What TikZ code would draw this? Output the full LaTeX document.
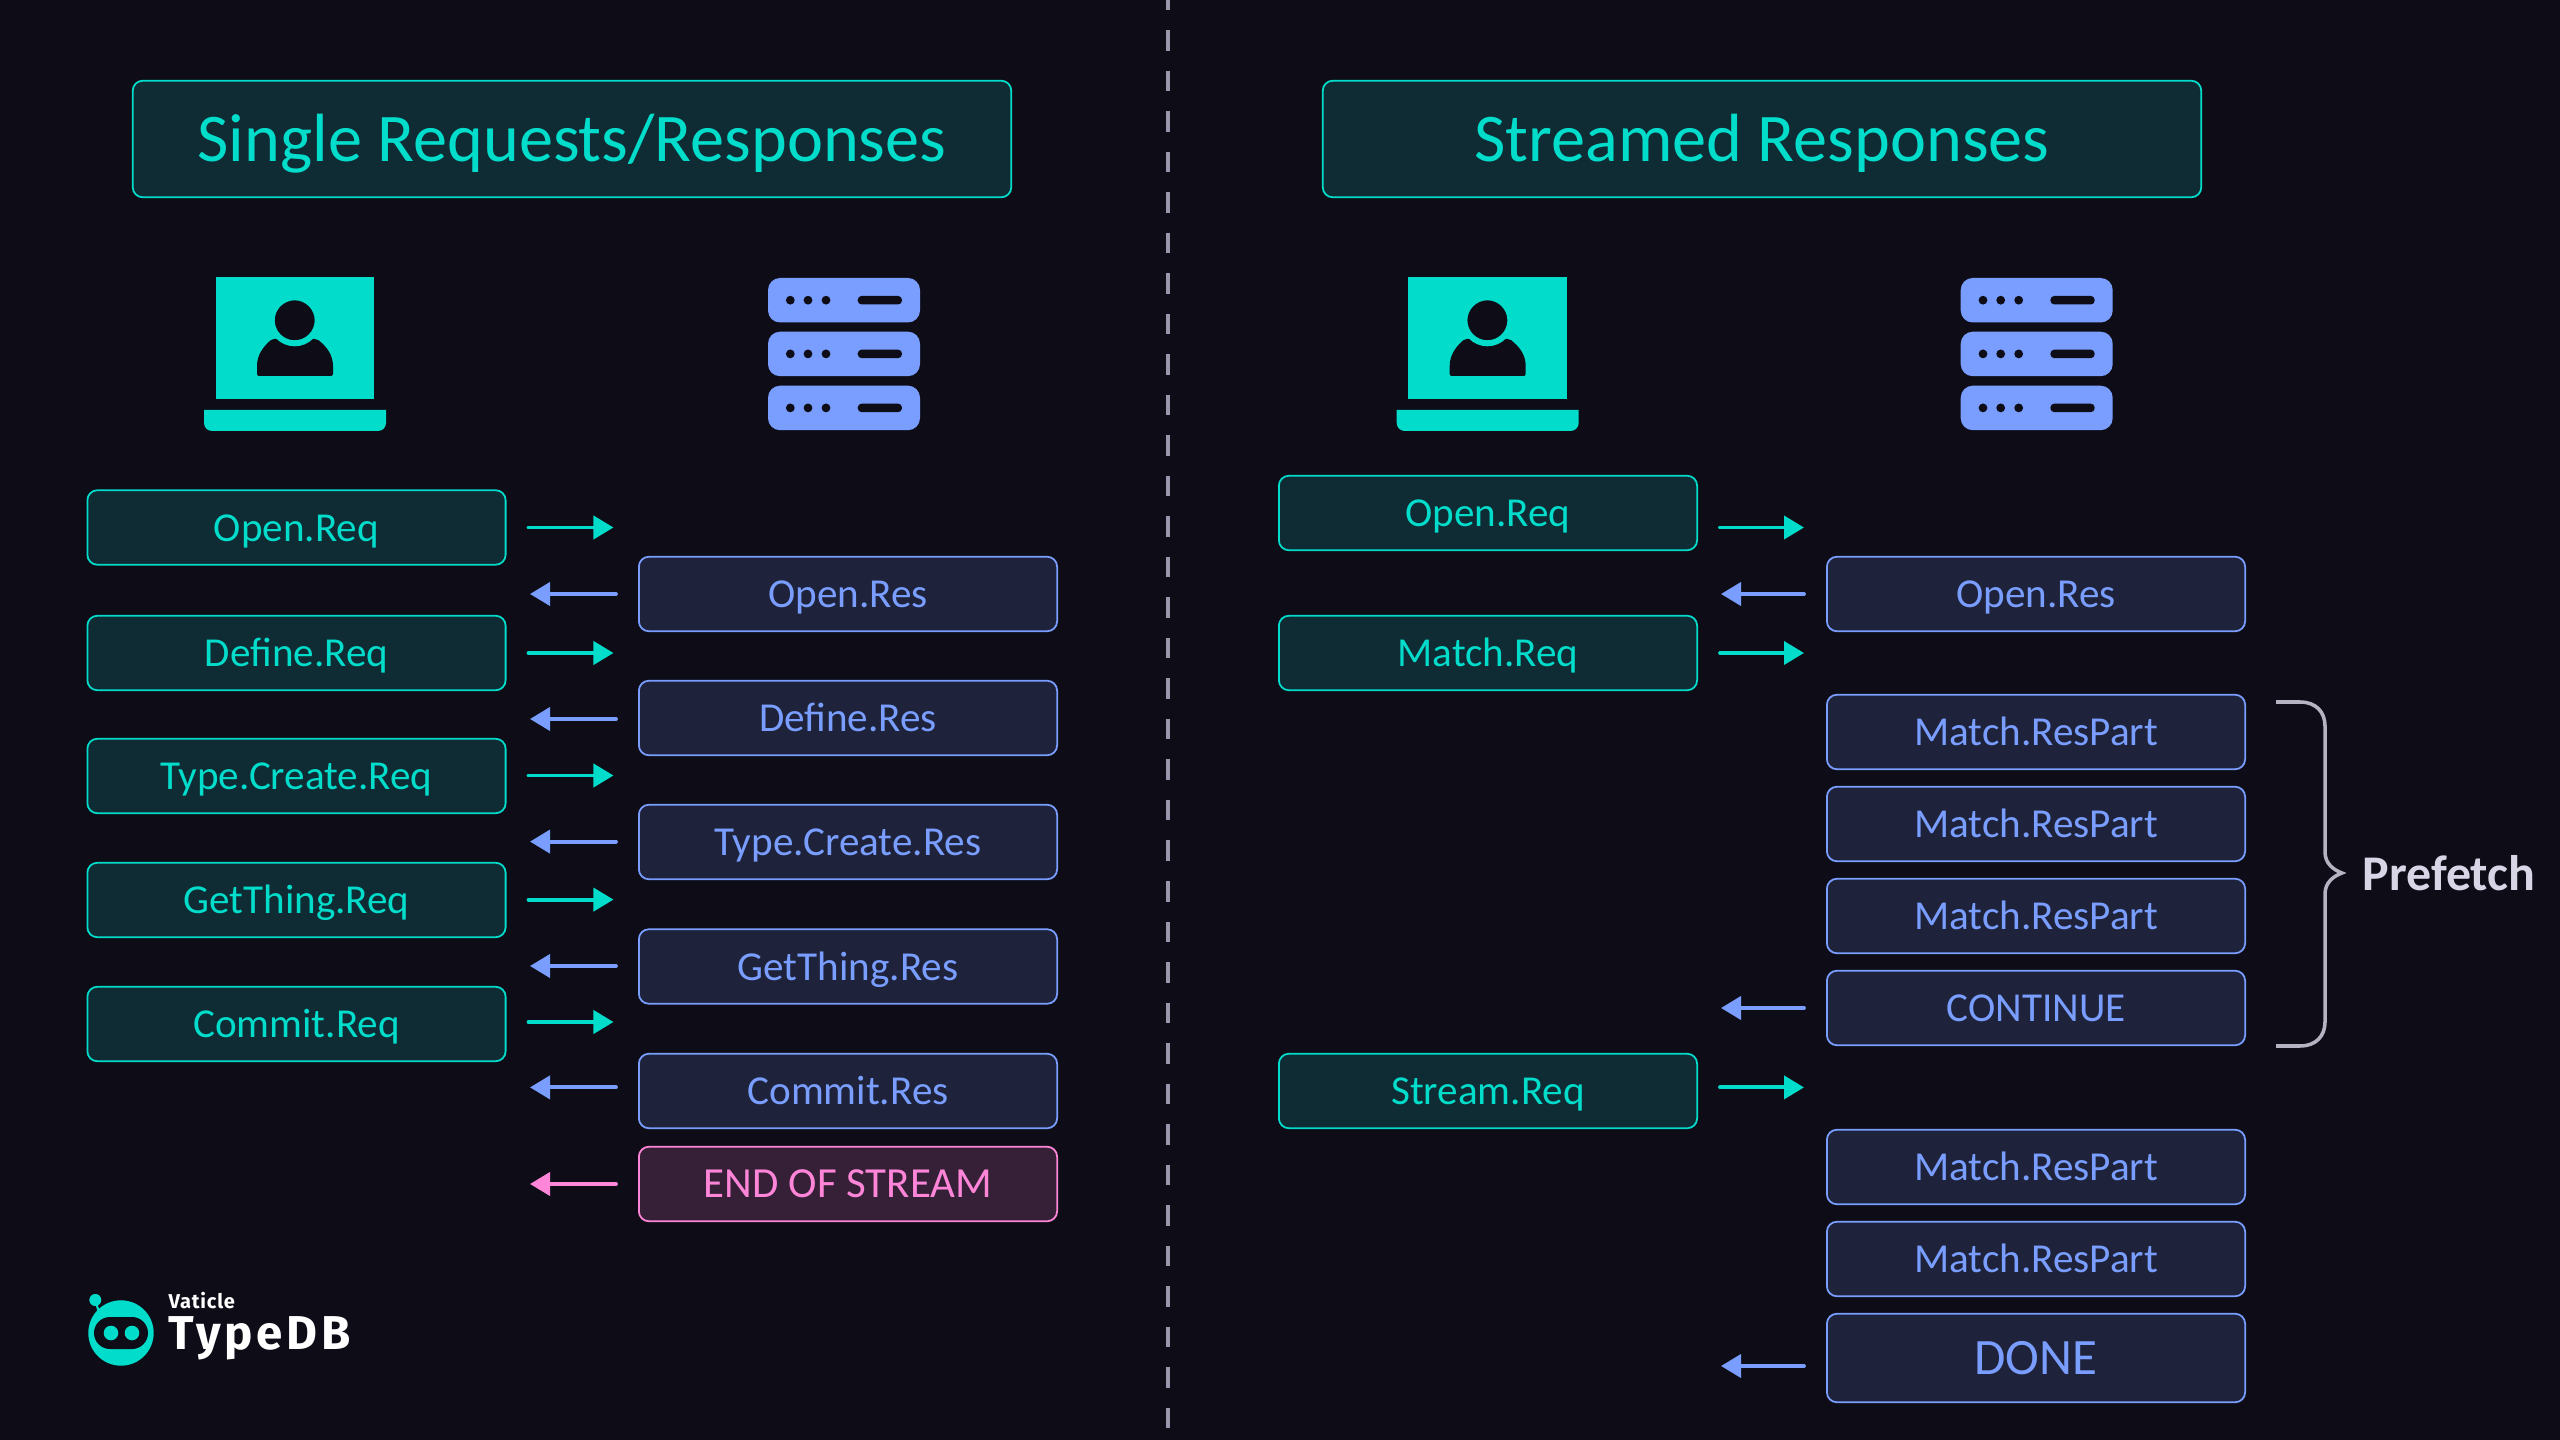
\documentclass[tikz,border=0pt]{standalone}
\usepackage{fontspec}
\setmainfont{Carlito}
\newfontfamily\logofont[LetterSpace=4]{Fira Sans}
\newfontfamily\logofontwide[LetterSpace=8]{Fira Sans}
\usetikzlibrary{arrows.meta}
\definecolor{pagebg}{HTML}{0E0D17}
\definecolor{reqcol}{HTML}{02DCCB}
\definecolor{reqfill}{HTML}{0F2B33}
\definecolor{rescol}{HTML}{7A9EFF}
\definecolor{resfill}{HTML}{1E233B}
\definecolor{endcol}{HTML}{FF85D9}
\definecolor{endfill}{HTML}{352037}
\definecolor{bracecol}{HTML}{B5B3C2}
\definecolor{dashcol}{HTML}{9A96AB}
\definecolor{labelcol}{HTML}{D8D6E6}
\tikzset{
  msgbox/.style={draw,line width=0.5pt,rounded corners=0.1cm,minimum width=4.18cm,minimum height=0.745cm,inner sep=0pt,text height=0.27cm,text depth=0pt,font=\fontsize{11.7}{14}\selectfont},
  reqbox/.style={msgbox,fill=reqfill,draw=reqcol,text=reqcol},
  resbox/.style={msgbox,fill=resfill,draw=rescol,text=rescol},
  endbox/.style={msgbox,fill=endfill,draw=endcol,text=endcol,font=\fontsize{12.2}{15}\selectfont},
  titlebox/.style={reqbox,minimum width=8.78cm,minimum height=1.165cm,text height=0.44cm,font=\fontsize{19.4}{23}\selectfont},
  donebox/.style={resbox,minimum height=0.885cm,text height=0.33cm,font=\fontsize{14.5}{17}\selectfont},
  msgline/.style={line width=1.1pt,line cap=round,shorten <=0.22cm,-{Triangle[length=0.2cm,width=0.23cm]}},
  reqline/.style={msgline,reqcol},
  resline/.style={msgline,rescol},
  endline/.style={msgline,endcol}
}
\newcommand{\clienticon}[1]{
  \begin{scope}[xshift=#1 cm]
    \fill[reqcol] (215.5,277) rectangle (374,399);
    \fill[reqcol] (204,410) -- (386,410) -- (386,423) arc (0:90:8) -- (212,431) arc (90:180:8) -- cycle;
    \fill[pagebg,rounded corners=0.02cm] (257,376) -- (257,368) .. controls (257,355) and (263,347) .. (272,339) -- (317,339) .. controls (327,347) and (333,355) .. (333,368) -- (333,376) -- cycle;
    \filldraw[pagebg,draw=reqcol,line width=1.7pt] (294.7,320.3) circle (23);
  \end{scope}
}
\newcommand{\servericon}[1]{
  \begin{scope}[xshift=#1 cm]
    \foreach \rowy in {278,331.7,385.7} {
      \fill[rescol,rounded corners=0.12cm] (768,\rowy) rectangle (920,\rowy+44.5);
      \fill[pagebg] (790.3,\rowy+22.2) circle (4.4);
      \fill[pagebg] (808,\rowy+22.2) circle (4.4);
      \fill[pagebg] (826,\rowy+22.2) circle (4.4);
      \fill[pagebg,rounded corners=0.04cm] (857.7,\rowy+17.9) rectangle (902,\rowy+26.5);
    }
  \end{scope}
}
\begin{document}
\begin{tikzpicture}[x=0.01cm,y=-0.01cm]
  \fill[pagebg] (0,0) rectangle (2560,1440);
  \useasboundingbox (0,0) rectangle (2560,1440);
  \draw[dashcol,line width=1.1pt,dash pattern=on 0.205cm off 0.2cm] (1168,-10.5) -- (1168,1450);

  % left side
  \node[titlebox] (singletitle) at (572,139) {Single Requests/Responses};
  \clienticon{0}
  \servericon{0}
  \node[reqbox] (openreq) at (296.5,527.5) {Open.Req};
  \node[reqbox] (definereq) at (296.5,653) {Define.Req};
  \node[reqbox] (typereq) at (296.5,776) {Type.Create.Req};
  \node[reqbox] (getreq) at (296.5,900) {GetThing.Req};
  \node[reqbox] (commitreq) at (296.5,1024) {Commit.Req};
  \node[resbox] (openres) at (848,594) {Open.Res};
  \node[resbox] (defineres) at (848,718) {Define.Res};
  \node[resbox] (typeres) at (848,842) {Type.Create.Res};
  \node[resbox] (getres) at (848,966.5) {GetThing.Res};
  \node[resbox] (commitres) at (848,1091) {Commit.Res};
  \node[endbox] (endres) at (848,1184) {END OF STREAM};
  \coordinate (a1) at (613.5,527.5);
  \coordinate (a2) at (530,594);
  \coordinate (a3) at (613.5,653);
  \coordinate (a4) at (530,719);
  \coordinate (a5) at (613.5,775.5);
  \coordinate (a6) at (530,841.6);
  \coordinate (a7) at (613.5,899.6);
  \coordinate (a8) at (530,966);
  \coordinate (a9) at (613.5,1022);
  \coordinate (a10) at (530,1087.4);
  \coordinate (a11) at (530,1184);
  \draw[reqline] (openreq.east |- a1) -- (a1);
  \draw[resline] (openres.west |- a2) -- (a2);
  \draw[reqline] (definereq.east |- a3) -- (a3);
  \draw[resline] (defineres.west |- a4) -- (a4);
  \draw[reqline] (typereq.east |- a5) -- (a5);
  \draw[resline] (typeres.west |- a6) -- (a6);
  \draw[reqline] (getreq.east |- a7) -- (a7);
  \draw[resline] (getres.west |- a8) -- (a8);
  \draw[reqline] (commitreq.east |- a9) -- (a9);
  \draw[resline] (commitres.west |- a10) -- (a10);
  \draw[endline] (endres.west |- a11) -- (a11);

  % right side
  \node[titlebox] (streamtitle) at (1762,139) {Streamed Responses};
  \clienticon{11.92}
  \servericon{11.92}
  \node[reqbox] (openreqb) at (1488,513) {Open.Req};
  \node[reqbox] (matchreq) at (1488,653) {Match.Req};
  \node[reqbox] (streamreq) at (1488,1091) {Stream.Req};
  \node[resbox] (openresb) at (2036,594) {Open.Res};
  \node[resbox] (matcha) at (2036,732) {Match.ResPart};
  \node[resbox] (matchb) at (2036,824) {Match.ResPart};
  \node[resbox] (matchc) at (2036,916) {Match.ResPart};
  \node[resbox] (contres) at (2036,1008) {CONTINUE};
  \node[resbox] (matchd) at (2036,1167) {Match.ResPart};
  \node[resbox] (matche) at (2036,1259) {Match.ResPart};
  \node[donebox] (doneres) at (2036,1358) {DONE};
  \coordinate (b1) at (1804,527.5);
  \coordinate (b2) at (1721,594);
  \coordinate (b3) at (1804,653);
  \coordinate (b4) at (1721,1008);
  \coordinate (b5) at (1804,1087.4);
  \coordinate (b6) at (1721,1366);
  \draw[reqline] (openreqb.east |- b1) -- (b1);
  \draw[resline] (openresb.west |- b2) -- (b2);
  \draw[reqline] (matchreq.east |- b3) -- (b3);
  \draw[resline] (contres.west |- b4) -- (b4);
  \draw[reqline] (streamreq.east |- b5) -- (b5);
  \draw[resline] (doneres.west |- b6) -- (b6);

  % prefetch brace
  \draw[bracecol,line width=1pt] (2276,702) -- (2300,702) .. controls (2316,702) and (2325,712) .. (2325,726) -- (2325,852) .. controls (2325,864) and (2334,870) .. (2342,873) .. controls (2334,876) and (2325,882) .. (2325,894) -- (2325,1022) .. controls (2325,1036) and (2316,1046) .. (2300,1046) -- (2276,1046);
  \node[anchor=west,inner sep=0pt,text=labelcol,font=\fontsize{14.2}{17}\selectfont\bfseries] (prefetch) at (2362,873) {Prefetch};

  % logo
  \fill[reqcol] (121,1333) circle (32.7);
  \fill[reqcol] (95.3,1300) circle (6);
  \draw[reqcol,line width=0.6pt] (95.3,1300) -- (100,1316);
  \fill[pagebg,rounded corners=0.16cm] (94,1317) rectangle (148,1349);
  \fill[reqcol] (111,1333) circle (7.3);
  \fill[reqcol] (132,1333) circle (7.3);
  \node[anchor=base west,inner sep=0pt,text=white,font=\logofont\fontsize{5.7}{7}\selectfont\bfseries] (vaticle) at (168,1308) {Vaticle};
  \node[anchor=base west,inner sep=0pt,text=white,font=\logofontwide\fontsize{13.5}{16}\selectfont\bfseries] (typedb) at (168,1349) {TypeDB};
\end{tikzpicture}
\end{document}
